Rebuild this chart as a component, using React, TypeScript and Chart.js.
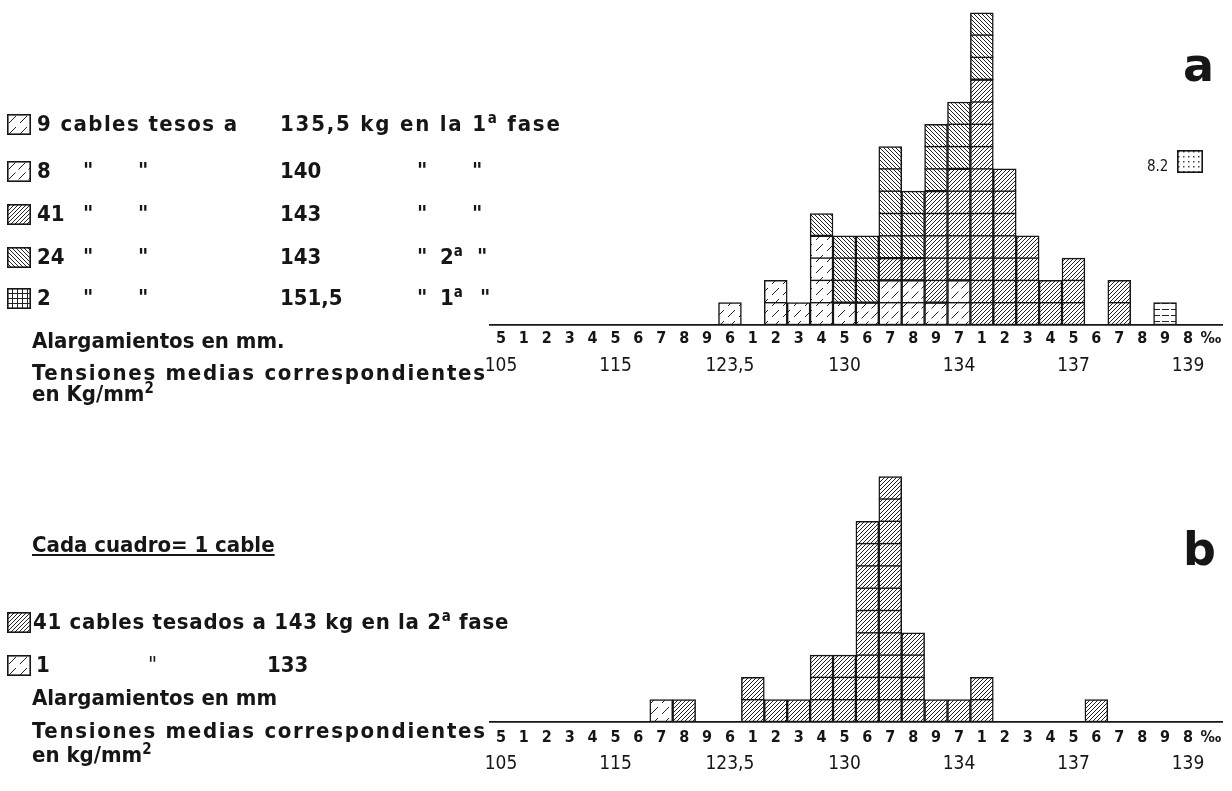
import React, { useEffect, useRef } from "react";
import { Chart, registerables } from "chart.js";

Chart.register(...registerables);

// ---------- axis labels (shared by both histograms) ----------
const elongationLabels = ["5","1","2","3","4","5","6","7","8","9","6","1","2","3","4","5","6","7","8","9","7","1","2","3","4","5","6","7","8","9","8","‰"];
const tensionLabels = ["105","","","","","115","","","","","123,5","","","","","130","","","","","134","","","","","137","","","","","139",""];

// ---------- histogram a : cables per elongation class ----------
//                         5 1 2 3 4 5 6 7 8 9 6 1 2 3 4 5 6 7 8 9 7 1 2 3 4 5 6 7 8 9 8 ‰
const a135_5kgFase1 =     [0,0,0,0,0,0,0,0,0,0,1,0,2,1,4,1,0,0,0,0,0,0,0,0,0,0,0,0,0,0,0,0];
const a140kgFase1 =       [0,0,0,0,0,0,0,0,0,0,0,0,0,0,0,0,1,2,2,1,2,0,0,0,0,0,0,0,0,0,0,0];
const a143kgFase1 =       [0,0,0,0,0,0,0,0,0,0,0,0,0,0,0,0,0,1,1,5,5,11,7,4,2,3,0,2,0,0,0,0];
const a143kgFase2 =       [0,0,0,0,0,0,0,0,0,0,0,0,0,0,1,3,3,5,3,3,3,3,0,0,0,0,0,0,0,0,0,0];
const a151_5kgFase1 =     [0,0,0,0,0,0,0,0,0,0,0,0,0,0,0,0,0,0,0,0,0,0,0,0,0,0,0,0,0,1,0,0];
const a151_5OffScale = "8.2";

// ---------- histogram b ----------
const b143kgFase2 =       [0,0,0,0,0,0,0,0,1,0,0,2,1,1,3,3,9,11,4,1,1,2,0,0,0,0,1,0,0,0,0,0];
const b133kg =            [0,0,0,0,0,0,0,1,0,0,0,0,0,0,0,0,0,0,0,0,0,0,0,0,0,0,0,0,0,0,0,0];

const INK = "#161616";
const FONT = '"Liberation Sans Narrow", "DejaVu Sans Condensed", "Liberation Sans", sans-serif';

type PatternKind = "sparse" | "sparse2" | "fwd" | "back" | "grid" | "hlines" | "dots";

function makeTile(kind: PatternKind): HTMLCanvasElement {
  const sizes: Record<PatternKind, [number, number]> = {
    sparse: [11, 11], sparse2: [10, 10], fwd: [4, 4], back: [4, 4], grid: [5, 5], hlines: [9, 6], dots: [5, 5],
  };
  const [w, h] = sizes[kind];
  const c = document.createElement("canvas");
  c.width = w; c.height = h;
  const g = c.getContext("2d")!;
  g.fillStyle = "#fff"; g.fillRect(0, 0, w, h);
  g.strokeStyle = "#222"; g.lineWidth = 1;
  const line = (x1: number, y1: number, x2: number, y2: number) => {
    g.beginPath(); g.moveTo(x1, y1); g.lineTo(x2, y2); g.stroke();
  };
  switch (kind) {
    case "sparse": line(2, 9, 9, 2); break;
    case "sparse2": line(1.5, 8.5, 8.5, 1.5); break;
    case "fwd": line(0, 4, 4, 0); line(-1, 1, 1, -1); line(3, 5, 5, 3); break;
    case "back": line(0, 0, 4, 4); line(-1, 3, 1, 5); line(3, -1, 5, 1); break;
    case "grid": line(0, 0.5, w, 0.5); line(0.5, 0, 0.5, h); break;
    case "hlines": line(1, 3.5, w - 1, 3.5); break;
    case "dots": g.fillStyle = "#444"; g.fillRect(1, 1, 1.5, 1.5); break;
  }
  return c;
}

const cellLines = {
  id: "cellLines",
  afterDatasetsDraw(chart: any) {
    const ctx = chart.ctx;
    const yScale = chart.scales.y;
    const n = chart.data.labels.length;
    ctx.save();
    ctx.strokeStyle = INK;
    ctx.lineWidth = 1.4;
    for (let i = 0; i < n; i++) {
      let total = 0;
      let el: any = null;
      chart.data.datasets.forEach((ds: any, di: number) => {
        const v = ds.data[i];
        if (v) { total += v; el = chart.getDatasetMeta(di).data[i]; }
      });
      if (!el || total < 2) continue;
      const half = el.width / 2;
      for (let k = 1; k < total; k++) {
        const py = yScale.getPixelForValue(k);
        ctx.beginPath(); ctx.moveTo(el.x - half, py); ctx.lineTo(el.x + half, py); ctx.stroke();
      }
    }
    ctx.restore();
  },
};

type Series = { label: string; values: number[]; pattern: PatternKind };

function Histogram(props: {
  top: number; height: number; padTop: number; padBottom: number; maxRows: number;
  tickPad: number; valuePad: number; series: Series[];
}) {
  const ref = useRef<HTMLCanvasElement>(null);
  useEffect(() => {
    const canvas = ref.current!;
    const ctx = canvas.getContext("2d")!;
    const datasets = props.series.map((s) => ({
      label: s.label,
      data: s.values.map((v) => (v ? v : null)),
      backgroundColor: ctx.createPattern(makeTile(s.pattern), "repeat") as any,
      borderColor: INK,
      borderWidth: 1.5,
      borderSkipped: false as any,
      barPercentage: 1,
      categoryPercentage: 1,
    }));
    const chart = new Chart(canvas, {
      type: "bar",
      data: { labels: elongationLabels, datasets },
      options: {
        animation: false,
        responsive: false,
        maintainAspectRatio: false,
        layout: { padding: { left: 489.5, right: 9.7, top: props.padTop, bottom: props.padBottom } },
        plugins: { legend: { display: false }, tooltip: { enabled: false } },
        scales: {
          x: {
            stacked: true,
            offset: true,
            weight: 0,
            grid: { display: false, drawTicks: false },
            border: { display: true, color: INK, width: 1.8 },
            ticks: {
              autoSkip: false, maxRotation: 0, padding: props.tickPad, color: INK,
              font: { family: FONT, size: 16, weight: "bold" },
            },
            afterFit: (s: any) => { s.height = 24; },
          },
          x2: {
            type: "category",
            labels: tensionLabels,
            position: "bottom",
            offset: true,
            weight: 1,
            grid: { display: false, drawTicks: false },
            border: { display: false },
            ticks: {
              autoSkip: false, maxRotation: 0, padding: props.valuePad, color: INK,
              font: { family: FONT, size: 19 },
            },
            afterFit: (s: any) => { s.height = 30; },
          },
          y: { stacked: true, display: false, min: 0, max: props.maxRows },
        },
      } as any,
      plugins: [cellLines],
    });
    return () => chart.destroy();
  }, []);
  return (
    <canvas
      ref={ref}
      width={1232}
      height={props.height}
      style={{ position: "absolute", left: 0, top: props.top, width: 1232, height: props.height }}
    />
  );
}

function Icon(props: { kind: PatternKind; x: number; y: number; w?: number; h?: number }) {
  const w = props.w ?? 24;
  const h = props.h ?? 21;
  const ref = useRef<HTMLCanvasElement>(null);
  useEffect(() => {
    const c = ref.current!;
    const g = c.getContext("2d")!;
    g.fillStyle = g.createPattern(makeTile(props.kind), "repeat") as any;
    g.fillRect(0, 0, w, h);
    g.strokeStyle = INK;
    g.lineWidth = 1.6;
    g.strokeRect(0.8, 0.8, w - 1.6, h - 1.6);
  }, []);
  return <canvas ref={ref} width={w} height={h} style={{ position: "absolute", left: props.x, top: props.y - h / 2 }} />;
}

function Txt(props: { x: number; y: number; size?: number; weight?: number; ls?: number; children: React.ReactNode; style?: React.CSSProperties }) {
  const size = props.size ?? 22;
  return (
    <div
      style={{
        position: "absolute", left: props.x, top: props.y - size * 0.6, fontSize: size,
        lineHeight: `${size * 1.2}px`, fontWeight: props.weight ?? 700, fontFamily: FONT,
        whiteSpace: "nowrap", color: INK, letterSpacing: props.ls ?? 0, ...props.style,
      }}
    >
      {props.children}
    </div>
  );
}

const Sup = (p: { children: React.ReactNode }) => (
  <sup style={{ fontSize: "0.68em", verticalAlign: "0.55em", lineHeight: 0 }}>{p.children}</sup>
);

const DITTO = '"';

export default function App() {
  const ya = [124, 171, 214, 257, 298];
  const yb = [622, 665];
  return (
    <div style={{ position: "absolute", left: 0, top: 0, width: 1232, height: 791, background: "#fff", overflow: "hidden" }}>
      <Histogram
        top={0} height={400} padTop={1.65} padBottom={21} maxRows={14.5} tickPad={4.4} valuePad={5.6}
        series={[
          { label: "9 cables tesos a 135,5 kg en la 1ª fase", values: a135_5kgFase1, pattern: "sparse" },
          { label: "8 cables 140 kg 1ª fase", values: a140kgFase1, pattern: "sparse2" },
          { label: "41 cables 143 kg 1ª fase", values: a143kgFase1, pattern: "fwd" },
          { label: "24 cables 143 kg 2ª fase", values: a143kgFase2, pattern: "back" },
          { label: "2 cables 151,5 kg 1ª fase", values: a151_5kgFase1, pattern: "hlines" },
        ]}
      />
      <Histogram
        top={430} height={361} padTop={24.4} padBottom={15} maxRows={12} tickPad={6.4} valuePad={6.6}
        series={[
          { label: "41 cables tesados a 143 kg en la 2ª fase", values: b143kgFase2, pattern: "fwd" },
          { label: "1 cable 133 kg", values: b133kg, pattern: "sparse" },
        ]}
      />

      {/* panel letters */}
      <Txt x={1183} y={66} size={46} style={{ fontFamily: '"DejaVu Sans", sans-serif' }}>a</Txt>
      <Txt x={1183} y={550} size={46} style={{ fontFamily: '"DejaVu Sans", sans-serif' }}>b</Txt>

      {/* off-scale cable */}
      <Txt x={1147} y={166} size={15} weight={400}>{a151_5OffScale}</Txt>
      <Icon kind="dots" x={1177} y={161} w={26} h={23} />

      {/* legend a */}
      <Icon kind="sparse" x={7} y={ya[0]} />
      <Txt x={37} y={ya[0]} ls={1.4}>9 cables tesos a</Txt>
      <Txt x={280} y={ya[0]} ls={1.8}>135,5 kg en la 1<Sup>a</Sup> fase</Txt>

      <Icon kind="sparse2" x={7} y={ya[1]} />
      <Txt x={37} y={ya[1]}>8</Txt>
      <Txt x={83} y={ya[1]}>{DITTO}</Txt>
      <Txt x={138} y={ya[1]}>{DITTO}</Txt>
      <Txt x={280} y={ya[1]}>140</Txt>
      <Txt x={417} y={ya[1]}>{DITTO}</Txt>
      <Txt x={472} y={ya[1]}>{DITTO}</Txt>

      <Icon kind="fwd" x={7} y={ya[2]} />
      <Txt x={37} y={ya[2]}>41</Txt>
      <Txt x={83} y={ya[2]}>{DITTO}</Txt>
      <Txt x={138} y={ya[2]}>{DITTO}</Txt>
      <Txt x={280} y={ya[2]}>143</Txt>
      <Txt x={417} y={ya[2]}>{DITTO}</Txt>
      <Txt x={472} y={ya[2]}>{DITTO}</Txt>

      <Icon kind="back" x={7} y={ya[3]} />
      <Txt x={37} y={ya[3]}>24</Txt>
      <Txt x={83} y={ya[3]}>{DITTO}</Txt>
      <Txt x={138} y={ya[3]}>{DITTO}</Txt>
      <Txt x={280} y={ya[3]}>143</Txt>
      <Txt x={417} y={ya[3]}>{DITTO}</Txt>
      <Txt x={440} y={ya[3]}>2<Sup>a</Sup></Txt>
      <Txt x={477} y={ya[3]}>{DITTO}</Txt>

      <Icon kind="grid" x={7} y={ya[4]} />
      <Txt x={37} y={ya[4]}>2</Txt>
      <Txt x={83} y={ya[4]}>{DITTO}</Txt>
      <Txt x={138} y={ya[4]}>{DITTO}</Txt>
      <Txt x={280} y={ya[4]}>151,5</Txt>
      <Txt x={417} y={ya[4]}>{DITTO}</Txt>
      <Txt x={440} y={ya[4]}>1<Sup>a</Sup></Txt>
      <Txt x={480} y={ya[4]}>{DITTO}</Txt>

      <Txt x={32} y={341}>Alargamientos en mm.</Txt>
      <Txt x={32} y={373} ls={1.7}>Tensiones medias correspondientes</Txt>
      <Txt x={32} y={394}>en Kg/mm<Sup>2</Sup></Txt>

      {/* middle note */}
      <Txt x={32} y={545} style={{ textDecoration: "underline" }}>Cada cuadro= 1 cable</Txt>

      {/* legend b */}
      <Icon kind="fwd" x={7} y={yb[0]} />
      <Txt x={33} y={yb[0]} ls={0.7}>41 cables tesados a 143 kg en la 2<Sup>a</Sup> fase</Txt>
      <Icon kind="sparse" x={7} y={yb[1]} />
      <Txt x={36} y={yb[1]}>1</Txt>
      <Txt x={148} y={yb[1]} weight={400}>{DITTO}</Txt>
      <Txt x={267} y={yb[1]}>133</Txt>

      <Txt x={32} y={698}>Alargamientos en mm</Txt>
      <Txt x={32} y={731} ls={1.7}>Tensiones medias correspondientes</Txt>
      <Txt x={32} y={755}>en kg/mm<Sup>2</Sup></Txt>
    </div>
  );
}
